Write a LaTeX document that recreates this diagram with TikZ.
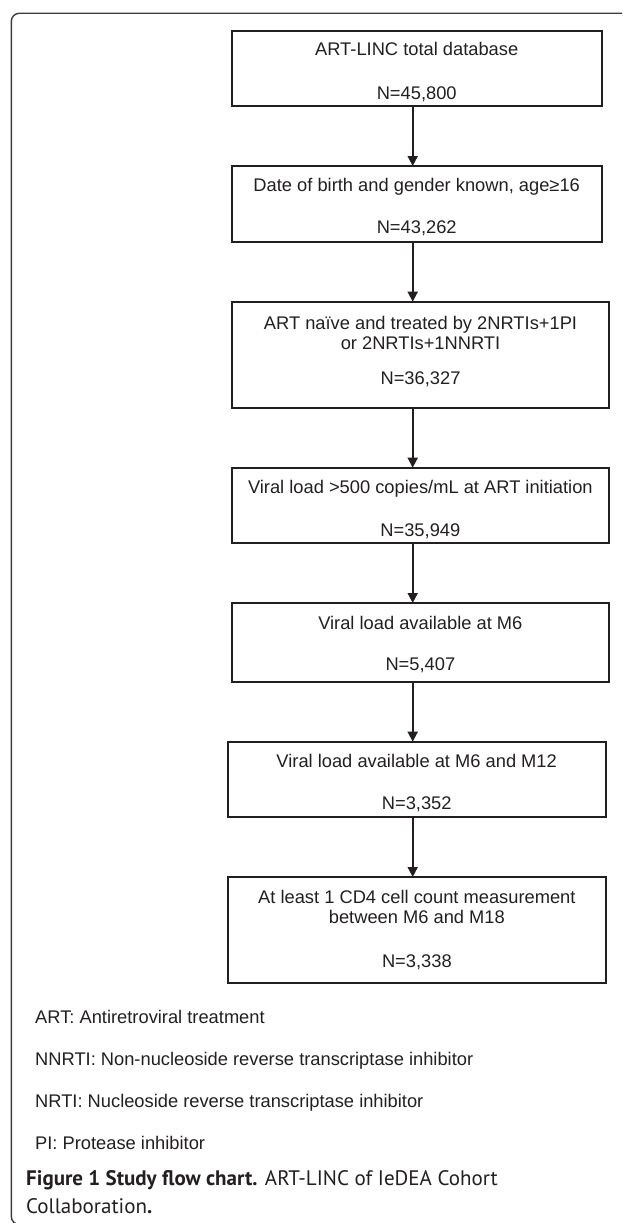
\documentclass[tikz,border=0pt]{standalone}
\usepackage{fontspec}
\setmainfont{Liberation Sans}
\newfontfamily\capfont{PT Sans}
\usetikzlibrary{arrows.meta}
\definecolor{boxcol}{HTML}{231F20}
\definecolor{framecol}{HTML}{3C3C3C}
\newcommand{\flowtext}[4]{\parbox[c][#1][t]{#2}{\centering\rule{0pt}{#3}#4}}
\begin{document}
\begin{tikzpicture}[x=1pt,y=-1pt,
  flowbox/.style={draw=boxcol, line width=2.2pt, inner sep=0pt, outer sep=0pt, anchor=north west, text=boxcol, font=\fontsize{18.3}{20.5}\selectfont},
  flowarrow/.style={draw=boxcol, line width=1.8pt, -{Triangle[width=10pt,length=10pt]}},
  legendtext/.style={anchor=base west, inner sep=0pt, text=boxcol, font=\fontsize{18.3}{20.5}\selectfont},
  captext/.style={anchor=north west, inner sep=0pt, align=left, text=boxcol, font=\capfont\fontsize{21}{27.5}\selectfont},
  frameline/.style={draw=framecol, line width=1.4pt, rounded corners=8pt}]
\useasboundingbox (0,0) rectangle (622,1223);
\begin{scope}
\clip (0,0) rectangle (622,1223);
\draw[frameline] (640,13.3) -- (11.3,13.3) -- (11.3,1224.5) -- (100,1224.5);
\end{scope}

\node[flowbox] (b1) at (231.7,30.7) {\flowtext{75.3pt}{370pt}{25pt}{ART-LINC total database\\[22.9pt]N=45,800}};
\node[flowbox] (b2) at (231.7,166) {\flowtext{75.7pt}{370pt}{25.4pt}{Date of birth and gender known, age≥16\\[21.2pt]N=43,262}};
\node[flowbox] (b3) at (232,301.7) {\flowtext{106pt}{377pt}{28pt}{ART naïve and treated by 2NRTIs+1PI\\[-0.5pt]or 2NRTIs+1NNRTI\\[14.7pt]N=36,327}};
\node[flowbox] (b4) at (231.7,467.7) {\flowtext{75.3pt}{377.3pt}{25.4pt}{Viral load >500 copies/mL at ART initiation\\[22.8pt]N=35,949}};
\node[flowbox] (b5) at (231.7,603) {\flowtext{79pt}{377.3pt}{26.7pt}{Viral load available at M6\\[20.2pt]N=5,407}};
\node[flowbox] (b6) at (227.7,741.7) {\flowtext{75.3pt}{378pt}{25.4pt}{Viral load available at M6 and M12\\[22.1pt]N=3,352}};
\node[flowbox] (b7) at (228,877) {\flowtext{105.7pt}{377.7pt}{26.1pt}{At least 1 CD4 cell count measurement\\[-0.2pt]between M6 and M18\\[23.2pt]N=3,338}};

\coordinate (ax) at (412.7,0);
\draw[flowarrow] (b1.south -| ax) -- (b2.north -| ax);
\draw[flowarrow] (b2.south -| ax) -- (b3.north -| ax);
\draw[flowarrow] (b3.south -| ax) -- (b4.north -| ax);
\draw[flowarrow] (b4.south -| ax) -- (b5.north -| ax);
\draw[flowarrow] (b5.south -| ax) -- (b6.north -| ax);
\draw[flowarrow] (b6.south -| ax) -- (b7.north -| ax);

\node[legendtext] (l1) at (35,1023.1) {ART: Antiretroviral treatment};
\node[legendtext] (l2) at (35,1065.4) {NNRTI: Non-nucleoside reverse transcriptase inhibitor};
\node[legendtext] (l3) at (35,1107.1) {NRTI: Nucleoside reverse transcriptase inhibitor};
\node[legendtext] (l4) at (35,1149.7) {PI: Protease inhibitor};

\node[captext] (cap) at (26,1170.5) {{\bfseries Figure 1 Study flow chart.} ART-LINC of IeDEA Cohort\\Collaboration{\bfseries .}};
\end{tikzpicture}
\end{document}
